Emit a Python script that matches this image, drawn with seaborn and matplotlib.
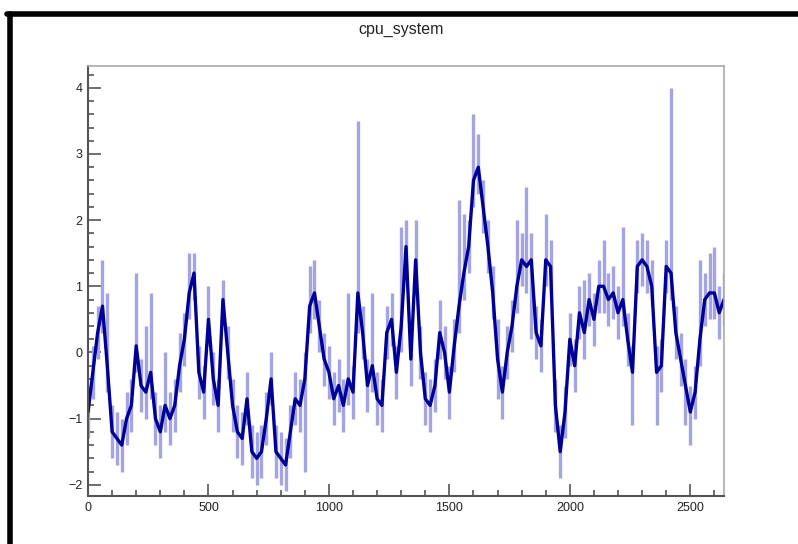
import numpy as np
import pandas as pd
import matplotlib.pyplot as plt
import seaborn as sns
from matplotlib.lines import Line2D
from matplotlib.ticker import MultipleLocator

time_step = list(range(0, 2660, 20))
cpu_system = [
    -0.9, -0.3, 0.3, 0.7, -0.2, -1.2, -1.3, -1.4, -1.0, -0.8,
    0.1, -0.5, -0.6, -0.3, -1.0, -1.2, -0.8, -1.0, -0.8, -0.2,
    0.2, 0.9, 1.2, -0.3, -0.6, 0.5, -0.4, -0.8, 0.8, 0.0,
    -0.8, -1.2, -1.3, -0.7, -1.5, -1.6, -1.5, -1.0, -0.4, -1.5,
    -1.6, -1.7, -1.2, -0.7, -0.8, -0.4, 0.7, 0.9, 0.4, -0.1,
    -0.3, -0.7, -0.5, -0.8, -0.4, -0.6, 0.9, 0.3, -0.5, -0.2,
    -0.7, -0.8, 0.3, 0.5, -0.3, 0.4, 1.6, -0.1, 1.4, 0.0,
    -0.7, -0.8, -0.5, 0.3, 0.0, -0.6, 0.1, 0.7, 1.2, 1.6,
    2.6, 2.8, 2.2, 1.6, 0.9, -0.1, -0.6, 0.0, 0.4, 1.0,
    1.4, 1.3, 1.4, 0.3, 0.1, 1.4, 1.3, -0.8, -1.5, -0.9,
    0.2, -0.2, 0.6, 0.3, 0.8, 0.5, 1.0, 1.0, 0.8, 0.9,
    0.6, 0.8, 0.2, -0.3, 1.3, 1.4, 1.3, 1.0, -0.3, -0.2,
    1.3, 1.2, 0.3, -0.1, -0.5, -0.9, -0.6, 0.2, 0.8, 0.9,
    0.9, 0.6, 0.8,
]
err_low = [
    0.4, 0.4, 0.4, 0.4, 0.4, 0.4, 0.4, 0.4, 0.4, 0.4,
    0.4, 0.4, 0.4, 0.4, 0.4, 0.4, 0.4, 0.4, 0.4, 0.4,
    0.4, 0.4, 0.4, 0.4, 0.4, 0.4, 0.4, 0.4, 0.4, 0.4,
    0.4, 0.4, 0.4, 0.4, 0.4, 0.4, 0.4, 0.4, 0.4, 0.4,
    0.4, 0.4, 0.4, 0.4, 0.4, 1.4, 0.4, 0.4, 0.4, 0.4,
    0.4, 0.4, 0.4, 0.4, 0.4, 0.4, 0.6, 0.4, 0.4, 0.4,
    0.4, 0.4, 0.4, 0.4, 0.4, 0.4, 0.4, 0.4, 0.4, 0.4,
    0.4, 0.4, 0.4, 0.4, 0.4, 0.4, 0.4, 0.4, 0.4, 0.4,
    0.4, 0.4, 0.4, 0.4, 0.4, 0.6, 0.4, 0.4, 0.4, 0.4,
    0.4, 0.4, 1.2, 0.4, 0.4, 0.4, 0.4, 0.4, 0.4, 0.4,
    0.4, 0.4, 0.4, 0.4, 0.4, 0.4, 0.4, 0.4, 0.4, 0.4,
    0.4, 0.4, 0.4, 0.8, 0.4, 0.4, 0.4, 0.3, 0.8, 0.4,
    0.4, 0.4, 0.4, 0.4, 0.6, 0.5, 0.4, 0.4, 0.4, 0.4,
    0.4, 0.4, 0.4,
]
err_high = [
    0.4, 0.4, 0.4, 0.7, 1.1, 0.4, 0.4, 0.4, 0.4, 0.4,
    1.1, 0.4, 1.0, 1.2, 0.4, 0.4, 0.8, 0.4, 0.4, 0.5,
    0.4, 0.6, 0.3, 0.4, 0.4, 0.5, 0.4, 0.4, 0.3, 0.4,
    0.4, 0.4, 0.4, 0.4, 0.4, 0.4, 0.4, 0.4, 0.4, 0.4,
    0.4, 0.4, 0.4, 0.4, 0.4, 0.4, 0.6, 0.5, 0.4, 0.4,
    0.4, 0.4, 0.4, 0.4, 1.3, 0.4, 2.6, 0.4, 0.4, 1.1,
    0.4, 0.4, 0.4, 0.4, 0.4, 1.5, 0.4, 0.4, 0.6, 0.4,
    0.4, 0.4, 0.4, 0.5, 0.4, 0.4, 0.4, 1.6, 0.9, 0.4,
    1.0, 0.5, 0.4, 0.4, 0.4, 0.6, 0.4, 0.4, 0.4, 1.0,
    0.4, 1.2, 0.4, 0.4, 0.4, 0.7, 0.4, 0.4, 0.4, 0.4,
    0.4, 0.4, 0.4, 0.8, 0.4, 0.4, 0.4, 0.7, 0.4, 0.4,
    0.4, 1.1, 0.4, 0.4, 0.4, 0.4, 0.4, 0.4, 0.4, 0.4,
    0.4, 2.8, 0.4, 0.4, 0.4, 0.4, 0.4, 1.2, 0.4, 0.6,
    0.7, 0.4, 0.4,
]

df = pd.DataFrame({"t": time_step, "v": cpu_system})

sns.set_style("white")
plt.rcParams['font.family'] = ['Liberation Sans', 'DejaVu Sans']

fig = plt.figure(figsize=(7.98, 5.44), dpi=100)
ax = fig.add_axes([0.1103, 0.0882, 0.797, 0.7905])

# light error bars, then the dark line over them
ax.errorbar(time_step, cpu_system, yerr=[err_low, err_high], fmt='none',
            ecolor='#a4a4e4', elinewidth=2.4, capsize=0, zorder=1)
sns.lineplot(data=df, x="t", y="v", color='#000096', linewidth=2.4,
             ax=ax, zorder=2)

ax.set_xlim(0, 2640)
ax.set_ylim(-2.17, 4.33)
ax.set_xlabel("")
ax.set_ylabel("")
ax.xaxis.set_major_locator(MultipleLocator(500))
ax.xaxis.set_minor_locator(MultipleLocator(100))
ax.yaxis.set_major_locator(MultipleLocator(1))
ax.yaxis.set_minor_locator(MultipleLocator(0.2))
ax.tick_params(which='major', direction='in', length=9, width=1.2,
               color='#555555', labelsize=9, pad=4, labelcolor='#222222',
               bottom=True, left=True, top=False, right=False)
ax.tick_params(which='minor', direction='in', length=4.5, width=1.2,
               color='#555555', bottom=True, left=True, top=False, right=False)
for side in ['left', 'bottom']:
    ax.spines[side].set_color('#555555')
    ax.spines[side].set_linewidth(1.5)
for side in ['top', 'right']:
    ax.spines[side].set_color('#aaaaaa')
    ax.spines[side].set_linewidth(1.2)

fig.text(0.503, 0.945, "cpu_system", ha='center', va='center',
         fontsize=11.5, color='#222222')

# thick black frame on the left and top edge of the canvas
fig.add_artist(Line2D([0.012, 0.012], [0.0, 0.975], color='black',
                      linewidth=4, transform=fig.transFigure))
fig.add_artist(Line2D([0.009, 1.0], [0.975, 0.975], color='black',
                      linewidth=4, transform=fig.transFigure))

plt.savefig('out.png', dpi=100)
